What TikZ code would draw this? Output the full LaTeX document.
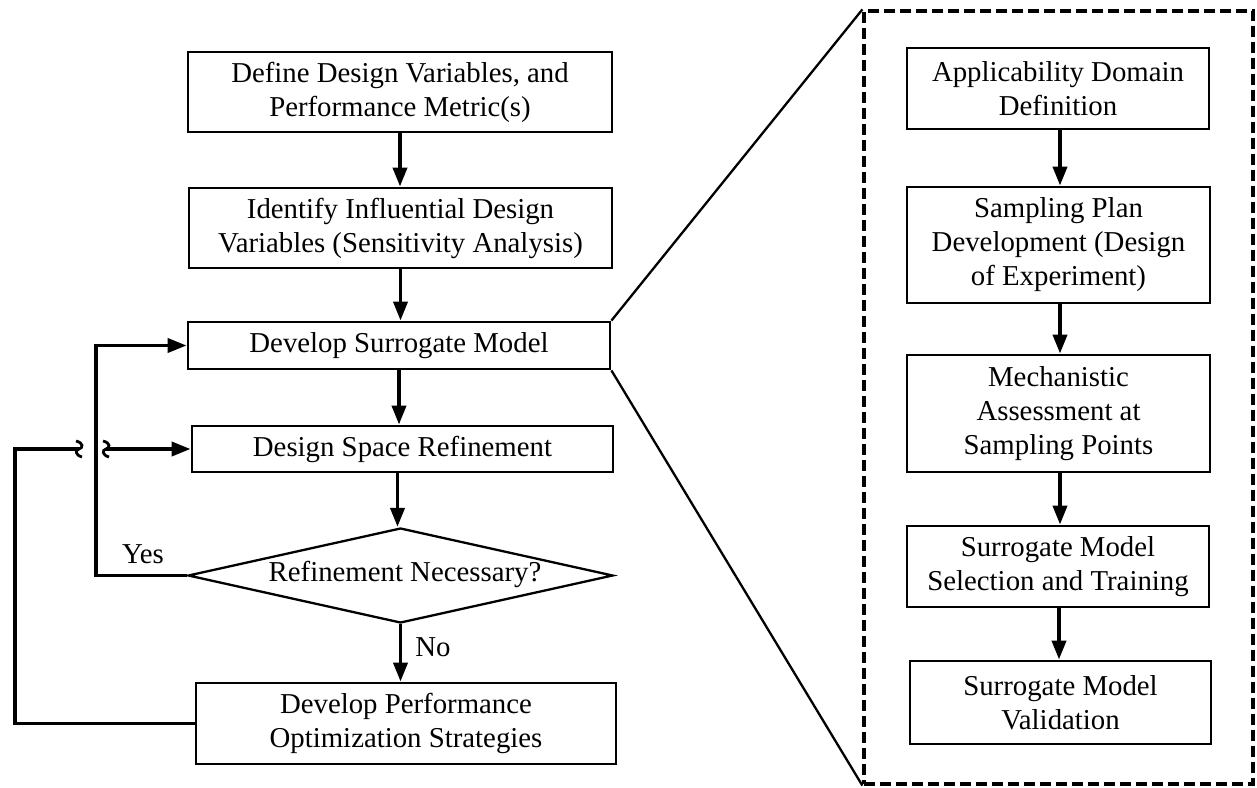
\documentclass[tikz,border=0pt]{standalone}
\usepackage{fontspec}
\setmainfont{Liberation Serif}
\usetikzlibrary{arrows.meta,shapes.geometric}

\begin{document}
\begin{tikzpicture}[x=1pt,y=-1pt,
  every node/.style={font=\fontsize{28.8}{34}\selectfont, inner sep=0pt},
  stepbox/.style={draw, line width=2.8pt, rectangle, align=center},
  conn/.style={line width=3.8pt, -{Triangle[length=19pt,width=14pt]}},
  plainline/.style={line width=3.8pt},
  wiggle/.style={line width=2.8pt},
  zoomline/.style={line width=2.3pt},
  frame/.style={draw, line width=3.2pt, dash pattern=on 11pt off 5pt, rectangle}
]
\useasboundingbox (0,0) rectangle (1257,787);

% main workflow
\node[stepbox, minimum width=424pt, minimum height=80pt] (b1) at (400,92)
  {Define Design Variables, and\\Performance Metric(s)};
\node[stepbox, minimum width=423pt, minimum height=80pt] (b2) at (400.5,228)
  {Identify Influential Design\\Variables (Sensitivity Analysis)};
\node[stepbox, minimum width=422pt, minimum height=47pt] (b3) at (399,345.5)
  {Develop Surrogate Model};
\node[stepbox, minimum width=421pt, minimum height=46pt] (b4) at (402.5,449)
  {Design Space Refinement};
\node[draw, diamond, line width=2.3pt, minimum width=425pt, minimum height=95pt] (dia) at (400.5,575.5) {};
\node (diatext) at (405,574) {Refinement Necessary?};
\node[stepbox, minimum width=420pt, minimum height=81pt] (b5) at (406,723.5)
  {Develop Performance\\Optimization Strategies};

% surrogate model detail
\node[frame, minimum width=389pt, minimum height=773pt] (zf) at (1058.5,397.5) {};
\node[stepbox, minimum width=302pt, minimum height=81pt] (r1) at (1058,88.5)
  {Applicability Domain\\Definition};
\node[stepbox, minimum width=303pt, minimum height=116pt] (r2) at (1058.5,245)
  {Sampling Plan\\Development (Design\\of Experiment)};
\node[stepbox, minimum width=303pt, minimum height=117pt] (r3) at (1058.5,413.5)
  {Mechanistic\\Assessment at\\Sampling Points};
\node[stepbox, minimum width=302pt, minimum height=81pt] (r4) at (1058,566.5)
  {Surrogate Model\\Selection and Training};
\node[stepbox, minimum width=301pt, minimum height=83pt] (r5) at (1060.5,702.5)
  {Surrogate Model\\Validation};

% main flow arrows
\draw[conn] (b1.south) -- (b1.south |- b2.north);
\draw[conn] (b2.south) -- (b2.south |- b3.north);
\draw[conn] (b3.south) -- (b3.south |- b4.north);
\draw[conn] ([xshift=-5pt]b4.south) -- ([xshift=-5pt]b4.south |- dia.north);
\draw[conn] (dia.south) -- (dia.south |- b5.north);

% detail flow arrows
\draw[conn] ([xshift=2pt]r1.south) -- ([xshift=2pt]r1.south |- r2.north);
\draw[conn] ([xshift=1.5pt]r2.south) -- ([xshift=1.5pt]r2.south |- r3.north);
\draw[conn] ([xshift=1.5pt]r3.south) -- ([xshift=1.5pt]r3.south |- r4.north);
\draw[conn] ([xshift=1pt]r4.south) -- ([xshift=1pt]r4.south |- r5.north);

% "Yes" loop back to the surrogate model
\draw[conn] (dia.west) -- ++(-91,0) |- (b3.west);
\node (yes) at (143,554) {Yes};
\node (no) at (433,647) {No};

% loop from optimization back to refinement, with a line jump
\coordinate (jl) at (79,449);
\coordinate (jr) at (106,449);
\draw[plainline] (b5.west) -| ([xshift=-64pt]jl) -- (jl);
\draw[wiggle] ([shift={(-3,-8)}]jl) .. controls ([shift={(5,-6)}]jl) and ([shift={(4,-1)}]jl) .. (jl)
  .. controls ([shift={(-4,1)}]jl) and ([shift={(-4,6)}]jl) .. ([shift={(3,8)}]jl);
\draw[wiggle] ([shift={(-3,-8)}]jr) .. controls ([shift={(5,-6)}]jr) and ([shift={(4,-1)}]jr) .. (jr)
  .. controls ([shift={(-4,1)}]jr) and ([shift={(-4,6)}]jr) .. ([shift={(3,8)}]jr);
\draw[conn] (jr) -- (b4.west);

% zoom lines to the detail frame
\draw[zoomline] (b3.north east) -- (zf.north west);
\draw[zoomline] (b3.south east) -- (zf.south west);
\end{tikzpicture}
\end{document}
